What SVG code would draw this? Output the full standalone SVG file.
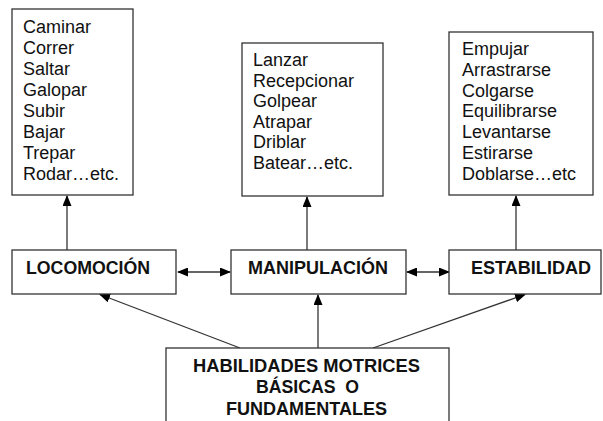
<svg xmlns="http://www.w3.org/2000/svg" width="603" height="421" viewBox="0 0 603 421">
<defs>
<style>
.box{fill:#fff;stroke:#333;stroke-width:1.3}
.it{font-family:"Liberation Sans",Arial,sans-serif;font-size:18px;fill:#111}
.bd{font-family:"Liberation Sans",Arial,sans-serif;font-size:17.5px;font-weight:bold;fill:#111;white-space:pre}
.ln{stroke:#333;stroke-width:1.3;fill:none}
</style>
<marker id="ah" markerUnits="userSpaceOnUse" markerWidth="11" markerHeight="9" refX="10" refY="4.5" orient="auto-start-reverse" viewBox="0 0 11 9">
<path d="M0,0 L11,4.5 L0,9 z" fill="#000"/>
</marker>
</defs>
<rect width="603" height="421" fill="#fff"/>
<g id="connectors">
<line class="ln" x1="67" y1="250" x2="67" y2="196" marker-end="url(#ah)"/>
<line class="ln" x1="307" y1="250" x2="307" y2="197" marker-end="url(#ah)"/>
<line class="ln" x1="516" y1="250" x2="516" y2="196" marker-end="url(#ah)"/>
<line class="ln" x1="178" y1="272" x2="230" y2="272" marker-start="url(#ah)" marker-end="url(#ah)"/>
<line class="ln" x1="407" y1="272" x2="449" y2="272" marker-start="url(#ah)" marker-end="url(#ah)"/>
<line class="ln" x1="240" y1="348" x2="100" y2="294.5" marker-end="url(#ah)"/>
<line class="ln" x1="318" y1="348" x2="318" y2="295" marker-end="url(#ah)"/>
<line class="ln" x1="373" y1="348" x2="525" y2="294.5" marker-end="url(#ah)"/>
</g>
<g id="locomocion-list">
<rect class="box" x="12" y="9" width="121" height="186"/>
<text class="it" x="23" y="33">Caminar</text>
<text class="it" x="23" y="54">Correr</text>
<text class="it" x="23" y="75">Saltar</text>
<text class="it" x="23" y="96">Galopar</text>
<text class="it" x="23" y="117">Subir</text>
<text class="it" x="23" y="138">Bajar</text>
<text class="it" x="23" y="159">Trepar</text>
<text class="it" x="23" y="180">Rodar…etc.</text>
</g>
<g id="manipulacion-list">
<rect class="box" x="242" y="43" width="141" height="153"/>
<text class="it" x="253" y="66">Lanzar</text>
<text class="it" x="253" y="86.5">Recepcionar</text>
<text class="it" x="253" y="107">Golpear</text>
<text class="it" x="253" y="127.5">Atrapar</text>
<text class="it" x="253" y="148">Driblar</text>
<text class="it" x="253" y="168.5">Batear…etc.</text>
</g>
<g id="estabilidad-list">
<rect class="box" x="449" y="32" width="144" height="163"/>
<text class="it" x="462" y="55">Empujar</text>
<text class="it" x="462" y="76">Arrastrarse</text>
<text class="it" x="462" y="96.5">Colgarse</text>
<text class="it" x="462" y="117">Equilibrarse</text>
<text class="it" x="462" y="138">Levantarse</text>
<text class="it" x="462" y="159">Estirarse</text>
<text class="it" x="462" y="180">Doblarse…etc</text>
</g>
<g id="locomocion">
<rect class="box" x="12" y="250" width="164" height="44"/>
<text class="bd" x="26" y="274" textLength="124" lengthAdjust="spacingAndGlyphs">LOCOMOCIÓN</text>
</g>
<g id="manipulacion">
<rect class="box" x="231" y="250" width="175" height="44"/>
<text class="bd" x="248" y="274" textLength="140" lengthAdjust="spacingAndGlyphs">MANIPULACIÓN</text>
</g>
<g id="estabilidad">
<rect class="box" x="449" y="250" width="152" height="44"/>
<text class="bd" x="471" y="274" textLength="120" lengthAdjust="spacingAndGlyphs">ESTABILIDAD</text>
</g>
<g id="habilidades">
<rect class="box" x="166" y="348" width="283" height="90"/>
<text class="bd" x="193" y="372" textLength="227" lengthAdjust="spacingAndGlyphs">HABILIDADES MOTRICES</text>
<text class="bd" x="256" y="393" textLength="103" lengthAdjust="spacingAndGlyphs">BÁSICAS  O</text>
<text class="bd" x="226" y="415" textLength="161" lengthAdjust="spacingAndGlyphs">FUNDAMENTALES</text>
</g>
</svg>
